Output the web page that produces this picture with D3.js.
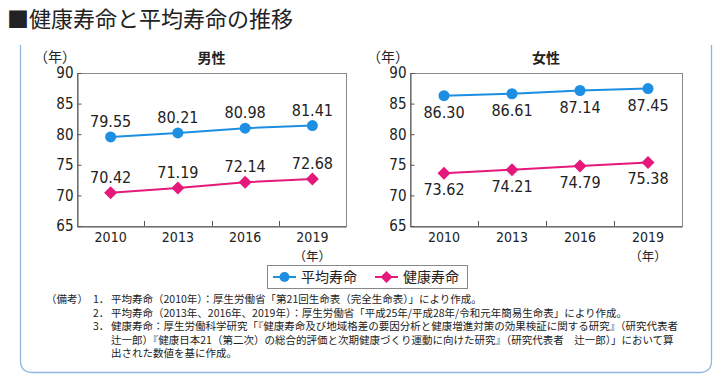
<!DOCTYPE html>
<html>
<head>
<meta charset="utf-8">
<script src="https://cdn.jsdelivr.net/npm/d3@7"></script>
<style>
  body { margin: 0; background: #fff; }
  text { fill: #222; }
  .num { font-family: 'DejaVu Sans', sans-serif; font-stretch: condensed; }
  .jp { font-family: 'Noto Sans CJK JP', sans-serif; }
</style>
</head>
<body>
<script>
var years = ["2010", "2013", "2016", "2019"];
var maleAvg = [79.55, 80.21, 80.98, 81.41];
var maleHealthy = [70.42, 71.19, 72.14, 72.68];
var femaleAvg = [86.30, 86.61, 87.14, 87.45];
var femaleHealthy = [73.62, 74.21, 74.79, 75.38];
var yTicks = [65, 70, 75, 80, 85, 90];
var seriesNames = ["平均寿命", "健康寿命"];
var panelTitles = ["男性", "女性"];
var notes = [
  ["（備考）", "1．", "平均寿命（2010年）：厚生労働省「第21回生命表（完全生命表）」により作成。"],
  ["", "2．", "平均寿命（2013年、2016年、2019年）：厚生労働省「平成25年/平成28年/令和元年簡易生命表」により作成。"],
  ["", "3．", "健康寿命：厚生労働科学研究「『健康寿命及び地域格差の要因分析と健康増進対策の効果検証に関する研究』（研究代表者"],
  ["", "", "辻一郎）『健康日本21（第二次）の総合的評価と次期健康づくり運動に向けた研究』（研究代表者　辻一郎）」において算"],
  ["", "", "出された数値を基に作成。"]
];

var blue = "#1c8fe3", pink = "#e5197b";
var W = 722, H = 382;

var svg = d3.select("body").append("svg")
    .attr("width", W)
    .attr("height", H);

// title
svg.append("text")
    .attr("class", "jp")
    .attr("x", 7)
    .attr("y", 27)
    .style("font-size", "22px")
    .text("■健康寿命と平均寿命の推移");

// outer box (open on top, rounded bottom corners)
var r = 12, bx0 = 20.5, bx1 = 711.5, by0 = 45, by1 = 372.5;
svg.append("path")
    .attr("d", "M" + bx0 + "," + by0 + "V" + (by1 - r) + "Q" + bx0 + "," + by1 + " " + (bx0 + r) + "," + by1 +
      "H" + (bx1 - r) + "Q" + bx1 + "," + by1 + " " + bx1 + "," + (by1 - r) + "V" + by0)
    .attr("fill", "none")
    .attr("stroke", "#8fb6e2")
    .attr("stroke-width", 1.3);

var plotTop = 73, plotBottom = 226;
var y = d3.scaleLinear().domain([65, 90]).range([plotBottom, plotTop]);
var fmt = d3.format(".2f");

function diamond(g, cx, cy, s, color) {
  g.append("path")
    .attr("d", "M" + cx + "," + (cy - s) + "L" + (cx + s) + "," + cy + "L" + cx + "," + (cy + s) + "L" + (cx - s) + "," + cy + "Z")
    .attr("fill", color);
}

function panel(left, right, title, avg, healthy, below) {
  var x = d3.scaleBand().domain(years).range([left, right]).padding(0);
  var g = svg.append("g");

  g.append("rect")
      .attr("x", left + 0.5).attr("y", plotTop + 0.5)
      .attr("width", right - left).attr("height", plotBottom - plotTop)
      .attr("fill", "none").attr("stroke", "#8a8a8a");

  var ya = g.append("g")
      .attr("class", "num")
      .attr("transform", "translate(" + (left + 0.5) + ",0)")
      .call(d3.axisLeft(y).tickValues(yTicks).tickSizeInner(-4).tickSizeOuter(0).tickPadding(4));
  ya.select(".domain").attr("stroke", "#555");
  ya.selectAll(".tick line").attr("stroke", "#555");
  ya.selectAll("text").style("font-size", "15px").attr("fill", "#222");

  var xa = g.append("g")
      .attr("class", "num")
      .attr("transform", "translate(0," + (plotBottom + 0.5) + ")")
      .call(d3.axisBottom(x).tickSize(0).tickPadding(6));
  xa.select(".domain").attr("stroke", "#555");
  xa.selectAll("text").style("font-size", "14px").attr("fill", "#222");

  g.selectAll(".xtick").data(years.slice(1)).enter().append("line")
      .attr("x1", function(d) { return Math.round(x(d)) + 0.5; })
      .attr("x2", function(d) { return Math.round(x(d)) + 0.5; })
      .attr("y1", plotBottom).attr("y2", plotBottom - 5)
      .attr("stroke", "#555");

  g.append("text").attr("class", "jp")
      .attr("x", left + (right - left) / 2).attr("y", 63)
      .attr("text-anchor", "middle")
      .style("font-size", "14px").style("font-weight", "bold")
      .text(title);

  g.append("text").attr("class", "jp")
      .attr("x", left - 1).attr("y", 62)
      .attr("text-anchor", "end")
      .style("font-size", "14px")
      .text("（年）");

  g.append("text").attr("class", "jp")
      .attr("x", x(years[3]) + x.bandwidth() / 2).attr("y", 261)
      .attr("text-anchor", "middle")
      .style("font-size", "12.5px")
      .text("（年）");

  var line = d3.line()
      .x(function(d, i) { return x(years[i]) + x.bandwidth() / 2; })
      .y(function(d) { return y(d); });

  [[avg, blue, "c"], [healthy, pink, "d"]].forEach(function(s) {
    g.append("path").datum(s[0])
        .attr("d", line)
        .attr("fill", "none")
        .attr("stroke", s[1])
        .attr("stroke-width", 2);
    s[0].forEach(function(v, i) {
      var cx = x(years[i]) + x.bandwidth() / 2, cy = y(v);
      if (s[2] == "c") {
        g.append("circle").attr("cx", cx).attr("cy", cy).attr("r", 5.5).attr("fill", s[1]);
      } else {
        diamond(g, cx, cy, 6.5, s[1]);
      }
      g.append("text").attr("class", "num")
          .attr("x", cx)
          .attr("y", below ? cy + 22 : cy - 10)
          .attr("text-anchor", "middle")
          .style("font-size", "16px")
          .text(fmt(v));
    });
  });
}

panel(77, 346, panelTitles[0], maleAvg, maleHealthy, false);
panel(410, 682, panelTitles[1], femaleAvg, femaleHealthy, true);

// legend
var lg = svg.append("g");
lg.append("rect")
    .attr("x", 267.5).attr("y", 265.5).attr("width", 200).attr("height", 23)
    .attr("fill", "#fff").attr("stroke", "#888");
var lx = [273, 375];
seriesNames.forEach(function(name, i) {
  var color = i == 0 ? blue : pink;
  lg.append("line")
      .attr("x1", lx[i]).attr("x2", lx[i] + 23)
      .attr("y1", 277).attr("y2", 277)
      .attr("stroke", color).attr("stroke-width", 2);
  if (i == 0) {
    lg.append("circle").attr("cx", lx[i] + 11.5).attr("cy", 277).attr("r", 5).attr("fill", color);
  } else {
    diamond(lg, lx[i] + 11.5, 277, 6, color);
  }
  lg.append("text").attr("class", "jp")
      .attr("x", lx[i] + 28).attr("y", 282)
      .style("font-size", "14px")
      .text(name);
});

// notes
var ng = svg.append("g").attr("class", "jp").style("font-size", "10.5px");
notes.forEach(function(row, i) {
  var yy = 303 + i * 13.5;
  ng.append("text").attr("x", 46).attr("y", yy).text(row[0]);
  ng.append("text").attr("x", 93).attr("y", yy).text(row[1]);
  ng.append("text").attr("x", 111).attr("y", yy).text(row[2]);
});
</script>
</body>
</html>
